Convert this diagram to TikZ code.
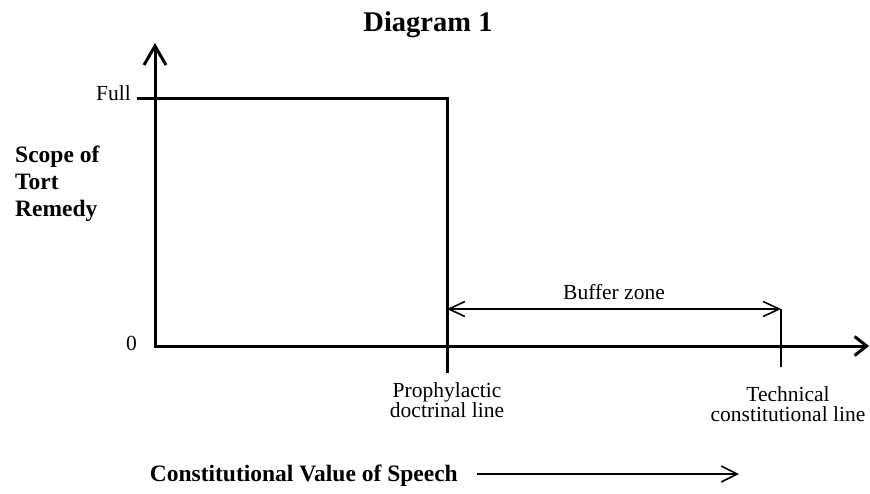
\documentclass[tikz,border=0pt]{standalone}
\usepackage{fontspec}
\setmainfont{Liberation Serif}
\usetikzlibrary{arrows.meta}
\begin{document}
\begin{tikzpicture}[x=1pt,y=-1pt,
  axis/.style={line width=3pt},
  thinline/.style={line width=1.6pt},
  bigtip/.style={-{Straight Barb[length=19pt 0,width=22pt 0]}},
  xtip/.style={-{Straight Barb[length=12pt 0,width=19pt 0]}},
  smalltip/.style={{Straight Barb[length=16pt 0,width=15pt 0]}-{Straight Barb[length=16pt 0,width=15pt 0]}},
  speechtip/.style={-{Straight Barb[length=16pt 0,width=16pt 0]}},
  lbl/.style={inner sep=0pt,font=\fontsize{21.5}{20}\selectfont},
  blbl/.style={inner sep=0pt,font=\fontsize{23.5}{27}\selectfont\bfseries},
]
\useasboundingbox (0,0) rectangle (870,493);
% coordinates
\coordinate (O) at (155,346);
\coordinate (ytop) at (155,43);
\coordinate (xend) at (869,346);
\coordinate (fullL) at (138,98);
\coordinate (fullR) at (447,98);
\coordinate (prophB) at (447,371);
\coordinate (bufL) at (447,309);
\coordinate (bufR) at (781,309);
\coordinate (techB) at (781,367);
\coordinate (spA) at (477,474);
\coordinate (spB) at (739,474);
% axes
\draw[axis,bigtip] ([yshift=1.5pt]O) -- (ytop);
\draw[axis,xtip] ([xshift=-1.5pt]O) -- (xend);
\draw[axis,line cap=rect] (fullL) -- (fullR) -- (prophB);
% buffer zone
\draw[thinline,smalltip] (bufL) -- (bufR);
\draw[line width=2.2pt] (bufR) -- (techB);
\draw[thinline,speechtip] (spA) -- (spB);
% labels
\node[blbl,anchor=base] (title) at (428,31) {\fontsize{28.5}{30}\selectfont Diagram 1};
\node[lbl,anchor=base east] (full) at (131,100) {Full};
\node[lbl,anchor=base east] (zero) at (137,350) {0};
\node[blbl,anchor=north west,align=left] (scope) at (15,146) {Scope of\\Tort\\Remedy};
\node[lbl,anchor=base] (buf) at (614,299) {Buffer zone};
\node[lbl,anchor=north,align=center] (proph) at (447,382) {Prophylactic\\doctrinal line};
\node[lbl,anchor=north,align=center] (tech) at (788,386) {Technical\\constitutional line};
\node[blbl,anchor=base east] (speech) at (458,481) {Constitutional Value of Speech};
\end{tikzpicture}
\end{document}
